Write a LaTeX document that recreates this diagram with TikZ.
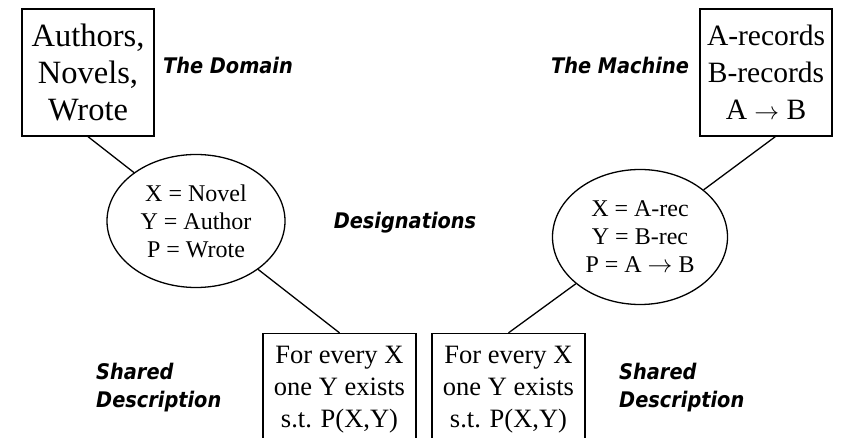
\documentclass[tikz,border=0pt]{standalone}
\usepackage{fontspec}
\setmainfont{Liberation Serif}
\newfontfamily\labfont{DejaVu Sans Condensed}
\usetikzlibrary{shapes.geometric,calc}
\begin{document}
\begin{tikzpicture}[x=1bp,y=-1bp,
  box/.style={draw, line width=1.3bp, inner sep=0pt, align=center},
  oval/.style={draw, ellipse, line width=1.3bp, inner sep=0pt, align=center,
    font=\fontsize{24bp}{28bp}\selectfont},
  lab/.style={font=\labfont\bfseries\itshape\fontsize{21.5bp}{28bp}\selectfont, inner sep=0pt},
  conn/.style={line width=1.3bp}]
\useasboundingbox (0,0) rectangle (851,438);
\clip (0,0) rectangle (851,438);
\fill[white] (0,0) rectangle (851,438);

\node[box, minimum width=132bp, minimum height=127bp,
  font=\fontsize{32.5bp}{37bp}\selectfont] (dom) at (88,72.5) {Authors,\\Novels,\\Wrote};
\node[box, minimum width=132bp, minimum height=127bp,
  font=\fontsize{29.5bp}{37bp}\selectfont] (mac) at (766,72.5) {A-records\\B-records\\A $\rightarrow$ B};

\node[oval, minimum width=178bp, minimum height=133bp] (e1) at (196,221)
  {X = Novel\\Y = Author\\P = Wrote};
\node[oval, minimum width=175bp, minimum height=135bp] (e2) at (640,237)
  {X = A-rec\\Y = B-rec\\P = A $\rightarrow$ B};

\node[box, minimum width=153bp, minimum height=112bp,
  font=\fontsize{26.5bp}{32bp}\selectfont] (b1) at (339.5,389.5)
  {For every X\\one Y exists\\s.t. P(X,Y)};
\node[box, minimum width=153bp, minimum height=112bp,
  font=\fontsize{26.5bp}{32bp}\selectfont] (b2) at (508.5,389.5)
  {For every X\\one Y exists\\s.t. P(X,Y)};

\node[lab] (tdom) at (228,65) {The Domain};
\node[lab] (tmac) at (620,65) {The Machine};
\node[lab] (des) at (405,223) {Designations};
\node[lab, anchor=west, align=left] (sd1) at (96,388) {Shared\\Description};
\node[lab, anchor=west, align=left] (sd2) at (619,388) {Shared\\Description};

\coordinate (maca) at ($(mac.south east)!0.43!(mac.south west)$);
\draw[conn] (dom.south) -- (e1);
\draw[conn] (e1) -- (b1.north);
\draw[conn] (maca) -- (e2);
\draw[conn] (e2) -- (b2.north);
\end{tikzpicture}
\end{document}
